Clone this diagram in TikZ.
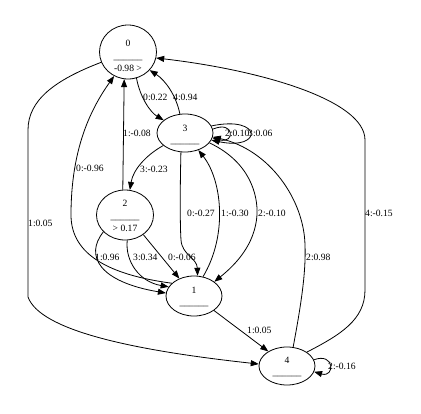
\documentclass[tikz,border=0pt]{standalone}
\usepackage{fontspec}
\setmainfont{Liberation Serif}
\usetikzlibrary{shapes.geometric,arrows.meta}
\begin{document}
\begin{tikzpicture}[x=1pt,y=-1pt,
  st/.style={draw,ellipse,inner sep=0pt,align=center,font=\fontsize{9.6}{12.3}\selectfont,line width=0.8pt},
  tx/.style={inner sep=0pt,align=center,font=\fontsize{9.6}{12.3}\selectfont},
  el/.style={inner sep=0pt,anchor=west,font=\fontsize{9.6}{11}\selectfont},
  ed/.style={line width=0.8pt,-{Triangle[length=8pt,width=6pt]}}]
\useasboundingbox (0,0) rectangle (421,413);
\node[st,minimum width=57pt,minimum height=54pt] (n0) at (128,52) {};
\node[tx] (t0) at (128,56) {0\\\_\_\_\_\_\_\\-0.98 >};
\node[st,minimum width=56pt,minimum height=38pt] (n3) at (185,133) {};
\node[tx] (t3) at (185,135) {3\\\_\_\_\_\_\_};
\node[st,minimum width=57pt,minimum height=50pt] (n2) at (125,215) {};
\node[tx] (t2) at (125,216) {2\\\_\_\_\_\_\_\\> 0.17};
\node[st,minimum width=56pt,minimum height=40pt] (n1) at (194,296) {};
\node[tx] (t1) at (194,297) {1\\\_\_\_\_\_\_};
\node[st,minimum width=56pt,minimum height=38pt] (n4) at (287,366) {};
\node[tx] (t4) at (287,367) {4\\\_\_\_\_\_\_};
% edges
\draw[ed] (n0.-72) .. controls (140,97) and (150,112) .. (n3.149);
\node[el] (l1) at (143,97) {0:0.22};
\draw[ed] (n3.105) .. controls (176,95) and (165,80) .. (n0.-40);
\node[el] (l2) at (173,97) {4:0.94};
\draw[ed] (n3.8) .. controls (235,120) and (235,144) .. (n3.-10);
\node[el] (l3) at (225,133) {2:0.10};
\draw[ed] (n3.15) .. controls (263,115) and (263,151) .. (n3.-15);
\node[el] (l4) at (248,133) {3:0.06};
\draw[ed] (n3.210) .. controls (146,155) and (133,170) .. (n2.79);
\node[el] (l5) at (140,169) {3:-0.23};
\draw[ed] (n2.95) -- (n0.-98);
\node[el] (l6) at (123,133) {1:-0.08};
\draw[ed] (n1.150) .. controls (110,275) and (71,255) .. (71,215) .. controls (71,150) and (90,110) .. (n0.240);
\node[el] (l7) at (76,168) {0:-0.96};
\draw[ed] (n0.201) .. controls (55,80) and (28,100) .. (28,130) -- (28,297) .. controls (40,330) and (130,350) .. (n4.176);
\node[el] (l8) at (28,223) {1:0.05};
\draw[ed] (n4.35) .. controls (340,335) and (365,320) .. (365,290) -- (365,140) .. controls (365,100) and (260,70) .. (n0.-12);
\node[el] (l9) at (365,213) {4:-0.15};
\draw[ed] (n3.-102) .. controls (180,190) and (180,225) .. (181,240) .. controls (182,255) and (197,258) .. (n1.80);
\node[el] (l10) at (187,213) {0:-0.27};
\draw[ed] (n1.65) .. controls (228,235) and (222,180) .. (n3.-52);
\node[el] (l11) at (221,213) {1:-0.30};
\draw[ed] (n3.-22) .. controls (250,162) and (258,195) .. (257,215) .. controls (255,245) and (235,265) .. (n1.35);
\node[el] (l12) at (258,213) {2:-0.10};
\draw[ed] (n4.72) .. controls (302,300) and (306,270) .. (305,245) .. controls (304,200) and (270,150) .. (n3.-8);
\node[el] (l13) at (306,257) {2:0.98};
\draw[ed] (n2.218) .. controls (84,256) and (100,282) .. (n1.174);
\node[el] (l14) at (95,257) {1:0.96};
\draw[ed] (n2.-85) .. controls (125,262) and (140,282) .. (n1.160);
\node[el] (l15) at (133,257) {3:0.34};
\draw[ed] (n2.-47) -- (n1.130);
\node[el] (l16) at (168,257) {0:-0.06};
\draw[ed] (n1.-36) -- (n4.142);
\node[el] (l17) at (247,330) {1:0.05};
\draw[ed] (n4.13) .. controls (335,352) and (335,378) .. (n4.-12);
\node[el] (l18) at (328,366) {2:-0.16};
\end{tikzpicture}
\end{document}
